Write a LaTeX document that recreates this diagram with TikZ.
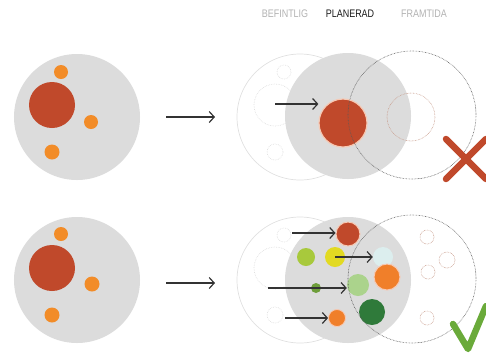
\documentclass[tikz,border=0pt]{standalone}
\usepackage{fontspec}
\newfontfamily\labfont[FakeStretch=0.82]{Liberation Sans}
\usetikzlibrary{arrows.meta}
\definecolor{bggray}{HTML}{DCDCDC}
\definecolor{rustred}{HTML}{C0492B}
\definecolor{dotorange}{HTML}{F28C28}
\definecolor{bigorange}{HTML}{F07F2A}
\definecolor{limegreen}{HTML}{A8C93C}
\definecolor{yel}{HTML}{E2DA22}
\definecolor{smallgreen}{HTML}{6E9E3A}
\definecolor{lightgreen}{HTML}{ABD38C}
\definecolor{palecyan}{HTML}{DCEEEE}
\definecolor{darkgreen}{HTML}{2F7A3A}
\definecolor{checkgreen}{HTML}{6AAA3A}
\definecolor{faint}{HTML}{E0E0E0}
\definecolor{brownish}{HTML}{C89C8C}
\definecolor{ringpink}{HTML}{F6C9B4}
\tikzset{
  dot/.style={circle, inner sep=0pt, minimum size=#1},
  planet/.style={dot=126bp, fill=bggray},
  ghost/.style={dot=126bp, draw=faint, line width=0.7pt},
  ghostin/.style={draw=faint, line width=0.7pt, densely dotted},
  future/.style={dot=128bp, draw=black!65, line width=0.6pt, dash pattern=on 0.6pt off 0.9pt},
  futin/.style={draw=brownish, line width=0.6pt, dash pattern=on 0.6pt off 0.9pt},
  arr/.style={-{Straight Barb[length=5pt,width=11pt]}, draw=black!80, line width=1.2pt},
  lab/.style={font=\labfont\fontsize{11}{13}\selectfont, inner sep=0pt}
}
\begin{document}
\begin{tikzpicture}[x=1bp,y=-1bp]
\useasboundingbox (0,0) rectangle (486,361);

% labels
\node[lab, text=black!30] (l1) at (285,14) {BEFINTLIG};
\node[lab, text=black!90] (l2) at (350,14) {PLANERAD};
\node[lab, text=black!30] (l3) at (424,14) {FRAMTIDA};

% ---------- top left ----------
\node[planet] (A) at (77,117) {};
\node[dot=46bp, fill=rustred] (Ar) at (52,105) {};
\node[dot=14bp, fill=dotorange] (Ao1) at (61,72) {};
\node[dot=14bp, fill=dotorange] (Ao2) at (91,122) {};
\node[dot=15bp, fill=dotorange] (Ao3) at (52,152) {};
\coordinate (As) at (166,117);
\coordinate (Ae) at (215,117);
\draw[arr] (As) -- (Ae);

% ---------- top right ----------
\node[ghost] (B0) at (300,117) {};
\draw[ghostin] (275,105) circle (21);
\draw[ghostin] (284,72) circle (7);
\draw[ghostin] (314,122) circle (7);
\draw[ghostin] (275,152) circle (8);
\node[planet] (B) at (348,116) {};
\node[dot=48bp, fill=rustred, draw=ringpink, line width=1.2pt] (Br) at (343,123) {};
\draw[futin] (411,117) circle (24);
\node[future] (Bf) at (412,115) {};
\coordinate (Bs) at (275,104);
\draw[arr] (Bs) -- (Br.west |- Bs);
\draw[rustred, line width=6.5pt, line cap=round] (446,139) -- (486,179) (446,179) -- (486,139);

% ---------- bottom left ----------
\node[planet] (C) at (77,280) {};
\node[dot=46bp, fill=rustred] (Cr) at (52,268) {};
\node[dot=14bp, fill=dotorange] (Co1) at (61,234) {};
\node[dot=15bp, fill=dotorange] (Co2) at (92,284) {};
\node[dot=15bp, fill=dotorange] (Co3) at (52,315) {};
\coordinate (Cs) at (166,283);
\coordinate (Ce) at (215,283);
\draw[arr] (Cs) -- (Ce);

% ---------- bottom right ----------
\node[ghost] (D0) at (300,280) {};
\draw[ghostin] (275,268) circle (21);
\draw[ghostin] (284,235) circle (7);
\draw[ghostin] (314,285) circle (7);
\draw[ghostin] (275,315) circle (8);
\node[planet] (D) at (348,280) {};
\node[dot=24bp, fill=rustred, draw=ringpink, line width=1pt] (D1) at (348,234) {};
\node[dot=18bp, fill=limegreen] (D2) at (306,257) {};
\node[dot=20bp, fill=yel] (D3) at (335,257) {};
\node[dot=20bp, fill=palecyan] (D4) at (383,257) {};
\node[dot=10bp, fill=smallgreen] (D5) at (316,288) {};
\node[dot=22bp, fill=lightgreen] (D6) at (358,285) {};
\node[dot=26bp, fill=bigorange, draw=ringpink, line width=1pt] (D7) at (387,277) {};
\node[dot=26bp, fill=darkgreen] (D8) at (372,312) {};
\node[dot=17bp, fill=bigorange, draw=ringpink, line width=0.8pt] (D9) at (337,318) {};
\node[future] (Df) at (412,279) {};
\draw[futin] (427,237) circle (7);
\draw[futin] (447,260) circle (8);
\draw[futin] (428,272) circle (7);
\draw[futin] (427,318) circle (7);
\coordinate (Ds1) at (292,233);
\coordinate (Ds3) at (268,288);
\coordinate (Ds4) at (285,318);
\draw[arr] (Ds1) -- (D1.west |- Ds1);
\draw[arr] (D3.center) -- (D4.west);
\draw[arr] (Ds3) -- (D6.west |- Ds3);
\draw[arr] (Ds4) -- (D9.west);
\draw[checkgreen, line width=6.5pt, line cap=round, line join=round] (453,324) -- (468,349) -- (486,306);
\end{tikzpicture}
\end{document}
